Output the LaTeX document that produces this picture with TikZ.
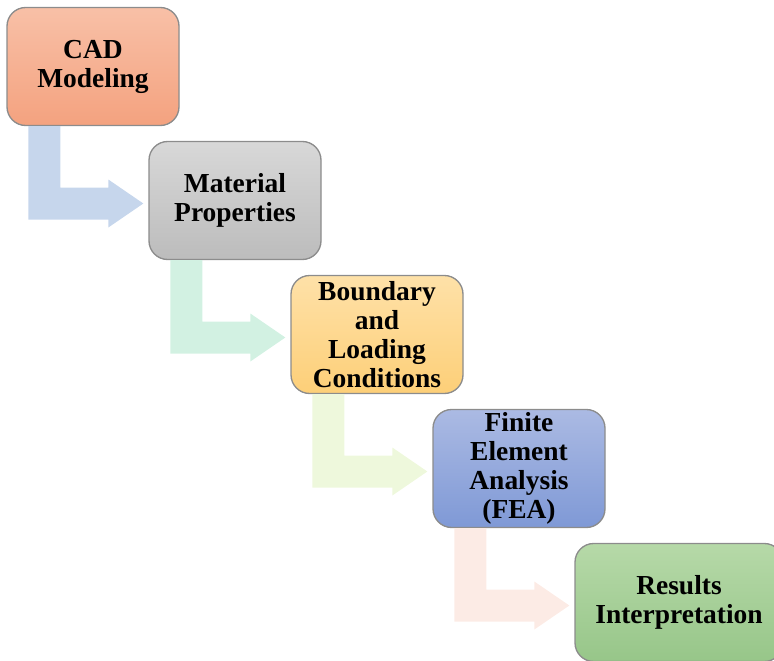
\documentclass[tikz,border=0pt]{standalone}
\usepackage{fontspec}
\setmainfont{Liberation Serif}
\usetikzlibrary{calc}
\definecolor{cadtop}{HTML}{F8C0A7}
\definecolor{cadbot}{HTML}{F4A27F}
\definecolor{mattop}{HTML}{D8D8D8}
\definecolor{matbot}{HTML}{BCBCBC}
\definecolor{bndtop}{HTML}{FEE1A8}
\definecolor{bndbot}{HTML}{FDCF78}
\definecolor{featop}{HTML}{ABBAE3}
\definecolor{feabot}{HTML}{7F99D6}
\definecolor{restop}{HTML}{B6D9A8}
\definecolor{resbot}{HTML}{97C689}
\definecolor{arrA}{HTML}{C6D6EC}
\definecolor{arrB}{HTML}{D2F1E2}
\definecolor{arrC}{HTML}{EEF8DC}
\definecolor{arrD}{HTML}{FCEBE5}
\newcommand{\Bent}[3]{
    \coordinate (c) at ($(#1.south west)+(38,0)$);
    \coordinate (t) at ($(#2.west)+(-5,3)$);
    \fill[#3] ($(c)+(-16,0)$) |- ($(t)+(-35,16)$) -- ($(t)+(-35,24)$) -- (t)
        -- ($(t)+(-35,-24)$) -- ($(t)+(-35,-16)$) -| ($(c)+(16,0)$) -- cycle;
}
\begin{document}
\begin{tikzpicture}[x=0.75pt, y=-0.75pt,
    stage/.style={rectangle, rounded corners=14pt, draw=black!45, line width=1pt,
        minimum width=129pt, minimum height=88.5pt, align=center, inner sep=2pt,
        font=\fontsize{20.6}{21.8}\selectfont\bfseries}]
    \useasboundingbox (0,0) rectangle (774,660);
    \clip (0,0) rectangle (774,660);
    \node[stage, top color=cadtop, bottom color=cadbot] (cad) at (93,66.5) {CAD\\Modeling};
    \node[stage, top color=mattop, bottom color=matbot] (mat) at (235,200.5) {Material\\Properties};
    \node[stage, top color=bndtop, bottom color=bndbot] (bnd) at (377,334.5) {Boundary\\and\\Loading\\Conditions};
    \node[stage, top color=featop, bottom color=feabot] (fea) at (519,468.5) {Finite\\Element\\Analysis\\(FEA)};
    \node[stage, top color=restop, bottom color=resbot, minimum width=156pt] (res) at (679,602.5) {Results\\Interpretation};
    \Bent{cad}{mat}{arrA}
    \Bent{mat}{bnd}{arrB}
    \Bent{bnd}{fea}{arrC}
    \Bent{fea}{res}{arrD}
\end{tikzpicture}
\end{document}
